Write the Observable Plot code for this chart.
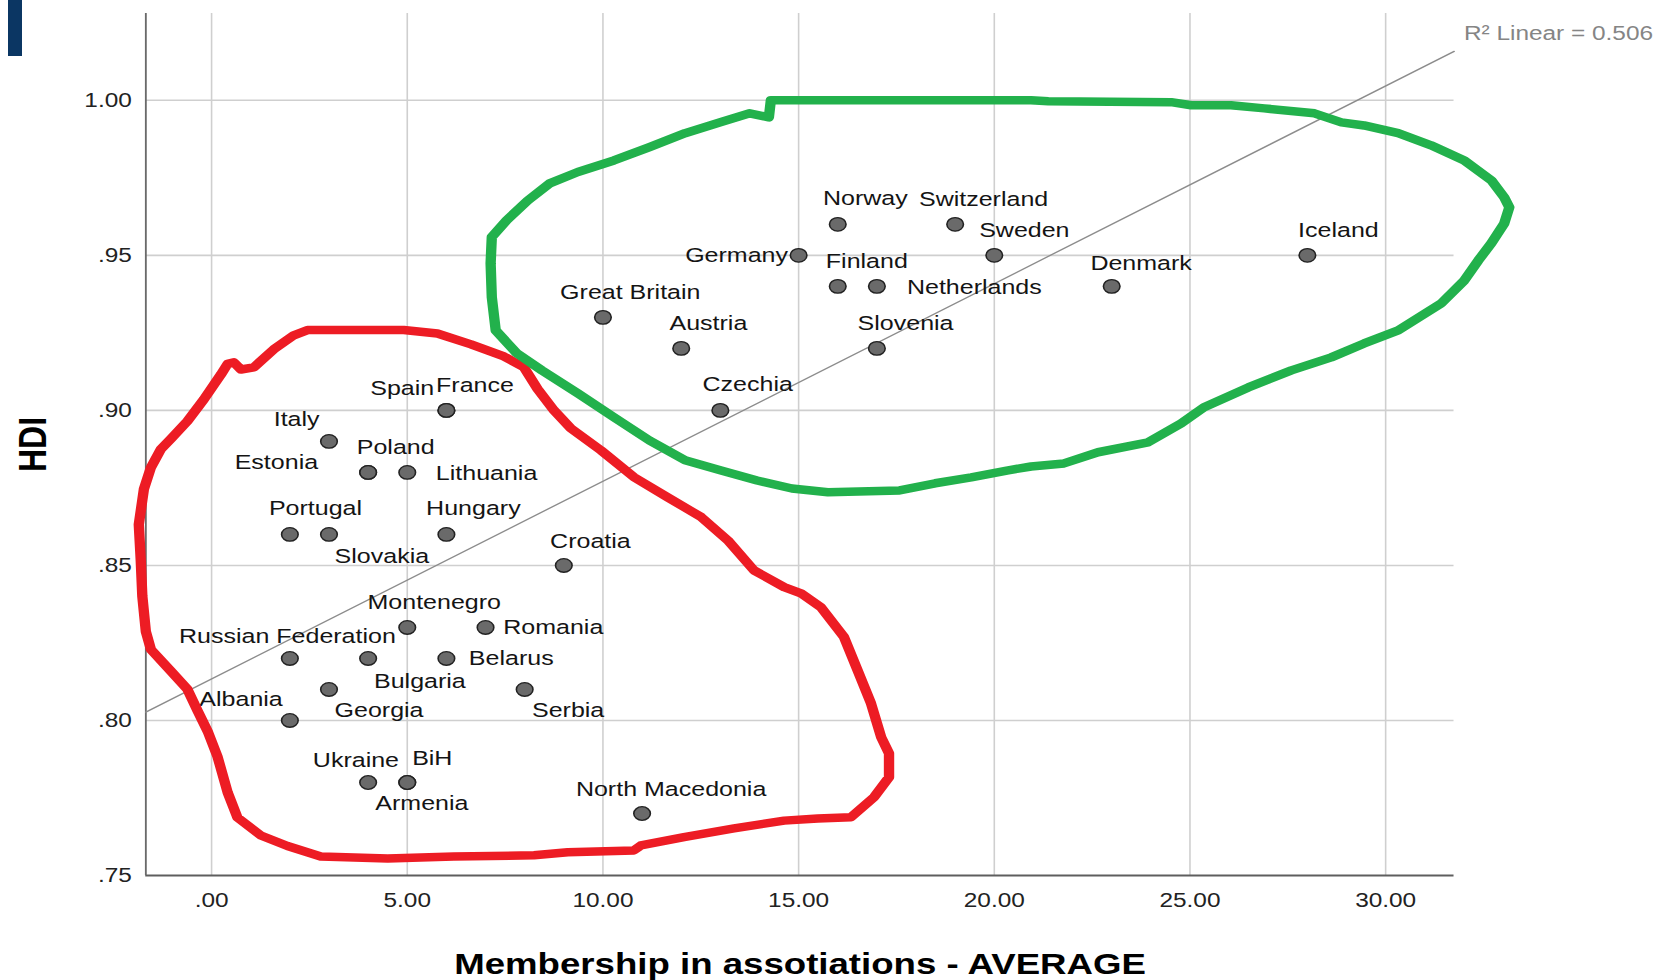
<!DOCTYPE html>
<html>
<head>
<meta charset="utf-8">
<script src="https://cdn.jsdelivr.net/npm/d3@7"></script>
<script src="https://cdn.jsdelivr.net/npm/@observablehq/plot@0.6"></script>
<style>
  html, body { margin: 0; padding: 0; background: #fff; }
  #wrap { position: relative; width: 1661px; height: 980px; overflow: hidden; }
  #bar { position: absolute; left: 8px; top: 0; width: 14px; height: 56px; background: #0b3663; }
  #chart { position: absolute; left: 0; top: 0; }
  #chart svg { display: block; }
</style>
</head>
<body>
<div id="wrap"><div id="chart"></div><div id="bar"></div></div>
<script>
// ---------- data ----------
const countries = ["Norway","Switzerland","Sweden","Germany","Finland","Netherlands","Denmark","Iceland",
  "Great Britain","Austria","Slovenia","Czechia","France","Spain","Italy","Estonia","Poland","Lithuania",
  "Portugal","Slovakia","Hungary","Croatia","Montenegro","Romania","Russian Federation","Bulgaria","Belarus",
  "Georgia","Serbia","Albania","Ukraine","BiH","Armenia","North Macedonia"];
const membership = [16,19,20,15,16,17,23,28, 10,12,17,13,6,6,3,4,4,5, 2,3,6,9,5,7,2,4,6, 3,8,2,4,5,5,11];
const hdi = [0.96,0.96,0.95,0.95,0.94,0.94,0.94,0.95, 0.93,0.92,0.92,0.90,0.90,0.90,0.89,0.88,0.88,0.88,
  0.86,0.86,0.86,0.85,0.83,0.83,0.82,0.82,0.82, 0.81,0.81,0.80,0.78,0.78,0.78,0.77];

const xTicks = [0,5,10,15,20,25,30];
const xTickLabels = [".00","5.00","10.00","15.00","20.00","25.00","30.00"];
const yTicks = [0.75,0.80,0.85,0.90,0.95,1.00];
const yTickLabels = [".75",".80",".85",".90",".95","1.00"];
const xTitle = "Membership in assotiations - AVERAGE";
const yTitle = "HDI";
const rSquaredLabel = "R\u00B2 Linear = 0.506";

// hand-drawn loops (data coordinates)
const redLoopX = [2.45,4.91,5.77,6.63,7.47,7.98,8.33,8.75,9.18,9.95,10.79,11.65,12.51,13.19,13.86,14.63,15.06,15.57,16.16,16.51,16.85,17.11,17.31,17.31,16.93,16.34,15.49,14.63,13.35,12.07,10.97,10.79,9.10,8.24,6.19,4.50,2.79,1.94,1.26,0.66,0.41,0.15,-0.10,-0.36,-0.62,-1.04,-1.55,-1.68,-1.77,-1.81,-1.86,-1.73,-1.55,-1.30,-1.04,-0.62,-0.20,0.24,0.41,0.57,0.75,1.08,1.59,2.10];
const redLoopY = [0.9259,0.9259,0.9248,0.9213,0.9174,0.9139,0.9069,0.9000,0.8942,0.8871,0.8785,0.8720,0.8656,0.8581,0.8484,0.8430,0.8410,0.8365,0.8269,0.8161,0.8055,0.7946,0.7894,0.7817,0.7753,0.7688,0.7684,0.7677,0.7652,0.7624,0.7597,0.7581,0.7575,0.7565,0.7561,0.7555,0.7561,0.7595,0.7629,0.7687,0.7768,0.7884,0.7965,0.8032,0.8101,0.8159,0.8229,0.8287,0.8401,0.8516,0.8632,0.8746,0.8816,0.8874,0.8908,0.8965,0.9035,0.9116,0.9150,0.9155,0.9132,0.9139,0.9197,0.9242];
const greenLoopX = [14.29,14.24,13.75,13.02,12.10,11.19,10.28,9.36,8.64,8.08,7.54,7.16,7.13,7.16,7.26,7.80,8.44,9.36,10.28,11.19,12.10,13.02,13.94,14.83,15.75,17.58,18.49,19.41,20.32,20.94,21.78,22.65,23.93,24.77,25.36,26.49,27.59,28.61,29.45,30.32,31.42,32.01,32.37,32.70,33.03,33.16,33.03,32.70,32.01,31.16,30.32,29.45,28.87,28.18,26.90,26.05,25.03,24.52,21.38,20.94];
const greenLoopY = [1.000,0.9945,0.9958,0.9930,0.9894,0.9849,0.9806,0.9769,0.9732,0.9677,0.9613,0.9559,0.9474,0.9365,0.9258,0.9184,0.9129,0.9055,0.8978,0.8903,0.8839,0.8806,0.8774,0.8748,0.8736,0.8742,0.8765,0.8784,0.8806,0.8819,0.8829,0.8865,0.8897,0.8958,0.9010,0.9074,0.9129,0.9171,0.9216,0.9258,0.9345,0.9419,0.9484,0.9539,0.9603,0.9655,0.9687,0.9742,0.9806,0.9855,0.9894,0.9919,0.9929,0.9958,0.9974,0.9984,0.9984,0.9994,0.9997,1.000];

// ---------- presentation ----------
// label placement: [textAnchor, dx, dy]
const labelPlacement = {
  "Norway":["middle",22.6,-26], "Switzerland":["middle",23.3,-25], "Sweden":["middle",24.6,-25],
  "Germany":["end",-8.7,0], "Finland":["middle",23.8,-25], "Netherlands":["start",24.6,1],
  "Denmark":["middle",24.1,-23], "Iceland":["middle",25.4,-25], "Great Britain":["middle",22.4,-25],
  "Austria":["middle",22.3,-25], "Slovenia":["middle",23.5,-25], "Czechia":["middle",22.4,-26],
  "France":["middle",23.4,-25], "Spain":["end",-10,-22], "Italy":["middle",-26.5,-22],
  "Estonia":["end",-41,-10], "Poland":["middle",22.6,-25], "Lithuania":["start",23.4,1],
  "Portugal":["middle",21,-26], "Slovakia":["middle",43.3,22], "Hungary":["middle",22.1,-26],
  "Croatia":["middle",21.8,-24], "Montenegro":["middle",22.1,-25], "Romania":["start",14.5,0],
  "Russian Federation":["middle",-2,-22], "Bulgaria":["middle",42.4,23], "Belarus":["start",18.4,0],
  "Georgia":["middle",41,21], "Serbia":["middle",35.6,21], "Albania":["middle",-40,-21],
  "Ukraine":["middle",-10,-22.5], "BiH":["middle",20.5,-24.5], "Armenia":["middle",12,20.5],
  "North Macedonia":["middle",23.8,-24]
};

const FULL_W = 1661, H = 980, STRETCH = 1.2204;
const W = Math.round(FULL_W / STRETCH); // 1361 drawing units, stretched horizontally
const xDomain = [-1.68, 31.75];
const yDomain = [0.75, 1.028];

const points = countries.map((c, i) => ({name: c, x: membership[i], y: hdi[i]}));
const redLoop = redLoopX.map((x, i) => ({x, y: redLoopY[i]}));
const greenLoop = greenLoopX.map((x, i) => ({x, y: greenLoopY[i]}));

// least-squares fit
const mx = d3.mean(membership), my = d3.mean(hdi);
const sxy = d3.sum(membership, (x, i) => (x - mx) * (hdi[i] - my));
const sxx = d3.sum(membership, x => (x - mx) ** 2);
const slope = sxy / sxx, intercept = my - slope * mx;
const fit = xDomain.map(x => ({x, y: intercept + slope * x}));

const labelMarks = points.map(p => {
  const [anchor, dx, dy] = labelPlacement[p.name];
  return Plot.text([p], {x: "x", y: "y", text: "name", textAnchor: anchor, dx, dy,
    fontSize: 20.5, fill: "#141414", lineAnchor: "middle"});
});

const chart = Plot.plot({
  width: W, height: H,
  marginLeft: 119, marginRight: W - 1191, marginTop: 13, marginBottom: 105,
  style: {fontFamily: "'Liberation Sans', Arial, sans-serif", fontSize: "20px", background: "#fff", overflow: "visible"},
  x: {domain: xDomain},
  y: {domain: yDomain},
  marks: [
    Plot.ruleY(yTicks.filter(d => d > 0.75), {stroke: "#cfcfcf", strokeWidth: 1.6}),
    Plot.ruleX(xTicks, {stroke: "#cfcfcf", strokeWidth: 1.3}),
    Plot.ruleY([yDomain[0]], {stroke: "#5e5e5e", strokeWidth: 2}),
    Plot.ruleX([xDomain[0]], {stroke: "#6a6a6a", strokeWidth: 1.5}),
    Plot.axisX(xTicks, {tickSize: 0, tickPadding: 17, tickFormat: d => xTickLabels[xTicks.indexOf(d)],
      label: null, fontSize: 20, fill: "#222"}),
    Plot.axisY(yTicks, {tickSize: 0, tickPadding: 11.5, tickFormat: d => yTickLabels[yTicks.indexOf(d)],
      label: null, fontSize: 20, fill: "#222"}),
    Plot.line(fit, {x: "x", y: "y", stroke: "#8c8c8c", strokeWidth: 1.3}),
    Plot.dot(points, {x: "x", y: "y", r: 6.8, fill: "#6a6a6a", stroke: "#222", strokeWidth: 1.3}),
    ...labelMarks,
    Plot.text([rSquaredLabel], {frameAnchor: "top-right", textAnchor: "start", lineAnchor: "middle",
      dx: 8, dy: 20, fontSize: 20, fill: "#858585"}),
    Plot.line(redLoop, {x: "x", y: "y", curve: "linear-closed", stroke: "#ed1c24", strokeWidth: 8.5,
      strokeLinejoin: "round", strokeLinecap: "round"}),
    Plot.line(greenLoop, {x: "x", y: "y", curve: "linear-closed", stroke: "#22b14c", strokeWidth: 8.5,
      strokeLinejoin: "round", strokeLinecap: "round"}),
    Plot.text([xTitle], {frameAnchor: "bottom", textAnchor: "middle", lineAnchor: "bottom", dy: 98,
      fontSize: 30, fontWeight: "bold", fill: "#000"}),
    Plot.text([yTitle], {frameAnchor: "left", textAnchor: "middle", rotate: -90, lineAnchor: "middle",
      dx: -92, fontSize: 32, fontWeight: "bold", fill: "#000"})
  ]
});

chart.setAttribute("width", FULL_W);
chart.setAttribute("height", H);
chart.setAttribute("viewBox", `0 0 ${W} ${H}`);
chart.setAttribute("preserveAspectRatio", "none");
chart.style.width = FULL_W + "px";
chart.style.height = H + "px";
chart.style.maxWidth = "none";
document.getElementById("chart").appendChild(chart);
</script>
</body>
</html>
